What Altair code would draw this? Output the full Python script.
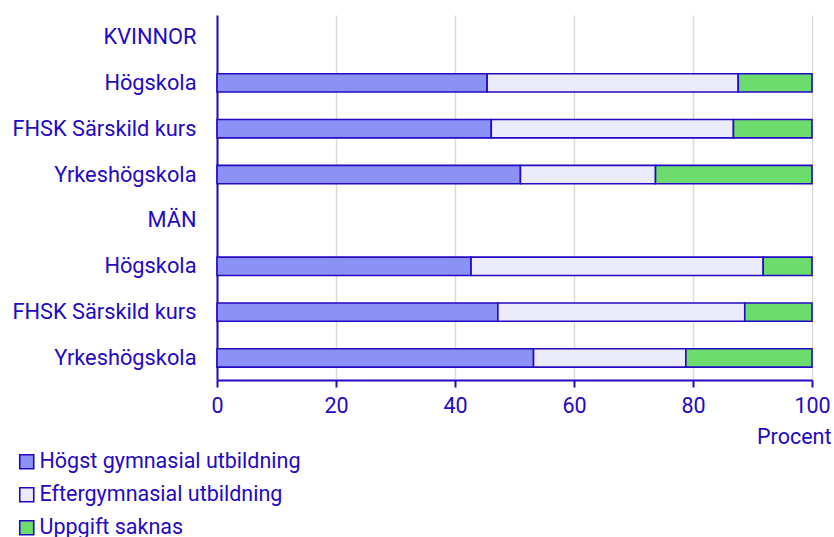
import altair as alt
import pandas as pd

# Row labels, top to bottom (group headers carry no bars)
rows = ["KVINNOR", "Högskola", "FHSK Särskild kurs", "Yrkeshögskola",
        "MÄN", "Högskola", "FHSK Särskild kurs", "Yrkeshögskola"]
is_header = [True, False, False, False, True, False, False, False]

categories = ["Högst gymnasial utbildning", "Eftergymnasial utbildning", "Uppgift saknas"]

# Percent shares per row (None for header rows)
hogst_gymnasial = [None, 45.4, 46.1, 51.0, None, 42.7, 47.2, 53.2]
eftergymnasial = [None, 42.2, 40.7, 22.7, None, 49.1, 41.5, 25.6]
uppgift_saknas = [None, 12.4, 13.2, 26.3, None, 8.2, 11.3, 21.2]

colors = ["#8c91f5", "#ebebfc", "#6cdc6c"]
ink = "#2308c4"
fs = 21.5

records = []
for i, label in enumerate(rows):
    if is_header[i]:
        continue
    for k, (cat, series) in enumerate(zip(categories, [hogst_gymnasial, eftergymnasial, uppgift_saknas])):
        records.append({"row": i, "kategori": cat, "ordning": k, "andel": series[i]})
df = pd.DataFrame(records)

label_map = "{" + ",".join(f"'{i}':'{r}'" for i, r in enumerate(rows)) + "}"

bars = alt.Chart(df).mark_bar(stroke=ink, strokeWidth=1.6).encode(
    x=alt.X("andel:Q", stack="zero",
            scale=alt.Scale(domain=[0, 100], nice=False),
            axis=alt.Axis(values=[0, 20, 40, 60, 80, 100], title="Procent",
                          titleAnchor="end", titleAlign="right", titleBaseline="middle",
                          titleX=614, titleY=57,
                          titleFontWeight="normal", titleFontSize=fs, titleColor=ink,
                          labelFontSize=fs, labelColor=ink, labelPadding=8, labelFlush=False,
                          tickColor=ink, tickSize=7, tickWidth=2,
                          domainColor=ink, domainWidth=2,
                          grid=True, gridColor="#d9d9d9", gridWidth=1.5)),
    y=alt.Y("row:O",
            scale=alt.Scale(domain=list(range(len(rows))), paddingInner=0.6, paddingOuter=0.28),
            axis=alt.Axis(title=None, labelExpr=f"{label_map}[datum.value]",
                          labelFontSize=21.8, labelColor=ink, labelPadding=21, labelLimit=300,
                          ticks=False, domainColor=ink, domainWidth=2, grid=False)),
    color=alt.Color("kategori:N",
                    scale=alt.Scale(domain=categories, range=colors),
                    legend=alt.Legend(title=None, orient="none", legendX=-201, legendY=436,
                                      direction="vertical", symbolType="square",
                                      symbolSize=196, symbolStrokeColor=ink, symbolStrokeWidth=1.6,
                                      labelFontSize=fs, labelColor=ink, labelOffset=2,
                                      rowPadding=10, labelLimit=500)),
    order=alt.Order("ordning:Q"),
)

chart = bars.properties(
    width=595, height=365,
    autosize=alt.AutoSizeParams(type="none"),
    padding={"left": 217, "top": 15, "right": 22, "bottom": 157},
).configure(
    font="Roboto",
).configure_view(
    stroke=None,
)

chart.save("out.html", embed_options={"renderer": "svg", "actions": False})
